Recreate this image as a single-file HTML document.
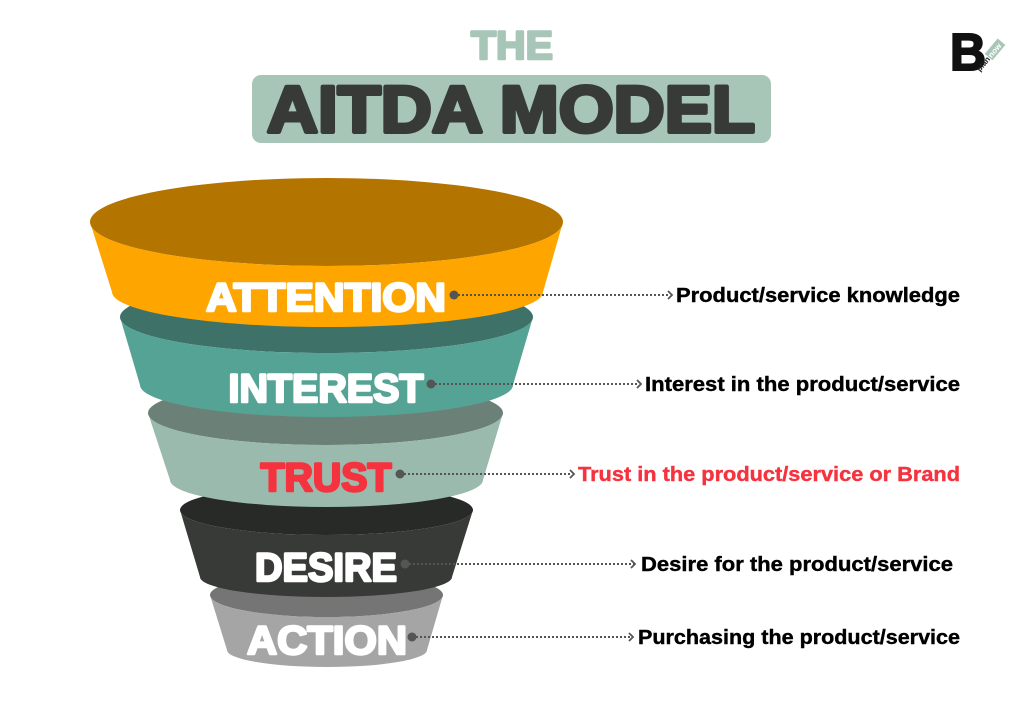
<!DOCTYPE html>
<html><head><meta charset="utf-8"><style>
html,body{margin:0;padding:0;background:#fff;}
svg{display:block;}
text{font-family:"Liberation Sans",sans-serif;font-weight:bold;}
</style></head><body>
<svg width="1024" height="724" viewBox="0 0 1024 724" xmlns="http://www.w3.org/2000/svg">
<rect width="1024" height="724" fill="#fff"/>
<!-- title -->
<text x="512" y="59" text-anchor="middle" font-size="40" fill="#A8C6B8" stroke="#A8C6B8" stroke-width="2.5" stroke-linejoin="round" textLength="82" lengthAdjust="spacingAndGlyphs">THE</text>
<rect x="252" y="75" width="519" height="68" rx="9" fill="#A8C6B8"/>
<text x="511" y="132" text-anchor="middle" font-size="66" fill="#383A37" stroke="#383A37" stroke-width="4" stroke-linejoin="round" textLength="488" lengthAdjust="spacingAndGlyphs">AITDA MODEL</text>
<!-- logo -->
<text x="950" y="70" font-size="52" fill="#111" stroke="#111" stroke-width="2" textLength="36" lengthAdjust="spacingAndGlyphs">B</text>
<g transform="translate(980,72) rotate(-50)">
<text x="0" y="0" font-size="8" fill="#222">plan</text>
<rect x="17" y="-8" width="20" height="10" fill="#A8C6B8"/>
<text x="18" y="0" font-size="8" fill="#fff">now</text>
</g>

<!-- ACTION -->
<ellipse cx="326.5" cy="595" rx="116.5" ry="22" fill="#757575"/>
<path d="M210,595 L227,650 A100,17 0 0 0 427,650 L443,595 A116.5,22 0 0 1 210,595 Z" fill="#A5A5A5"/>
<!-- DESIRE -->
<ellipse cx="326.5" cy="510" rx="146.5" ry="25" fill="#282A27"/>
<path d="M180,510 L200,577 A126,20 0 0 0 452,577 L473,510 A146.5,25 0 0 1 180,510 Z" fill="#383A37"/>
<!-- TRUST -->
<ellipse cx="325.5" cy="413" rx="177.5" ry="32" fill="#6B8077"/>
<path d="M148,413 L170,480 A156.5,27 0 0 0 483,480 L503,413 A177.5,32 0 0 1 148,413 Z" fill="#9ABAAE"/>
<!-- INTEREST -->
<ellipse cx="326.5" cy="317" rx="206.5" ry="36" fill="#3E7268"/>
<path d="M120,317 L140,385 A186.5,32 0 0 0 513,385 L533,317 A206.5,36 0 0 1 120,317 Z" fill="#55A394"/>
<!-- ATTENTION -->
<ellipse cx="326.5" cy="222" rx="236.5" ry="44" fill="#B37500"/>
<path d="M90,222 L112,292 A215.5,35 0 0 0 543,292 L563,222 A236.5,44 0 0 1 90,222 Z" fill="#FFA500"/>

<!-- labels -->
<g stroke-width="2.5" stroke-linejoin="round">
<text x="326" y="311" text-anchor="middle" font-size="40" fill="#fff" stroke="#fff" textLength="240" lengthAdjust="spacingAndGlyphs">ATTENTION</text>
<text x="326" y="402" text-anchor="middle" font-size="40" fill="#fff" stroke="#fff" textLength="195" lengthAdjust="spacingAndGlyphs">INTEREST</text>
<text x="326" y="491" text-anchor="middle" font-size="40" fill="#F5333F" stroke="#F5333F" textLength="131" lengthAdjust="spacingAndGlyphs">TRUST</text>
<text x="326" y="581" text-anchor="middle" font-size="40" fill="#fff" stroke="#fff" textLength="142" lengthAdjust="spacingAndGlyphs">DESIRE</text>
<text x="327" y="654" text-anchor="middle" font-size="40" fill="#fff" stroke="#fff" textLength="160" lengthAdjust="spacingAndGlyphs">ACTION</text>
</g>

<!-- connectors -->
<g stroke="#555" stroke-width="2" stroke-dasharray="2,2" fill="none">
<line x1="454" y1="295" x2="670" y2="295"/>
<line x1="431" y1="384" x2="639" y2="384"/>
<line x1="400" y1="474" x2="572" y2="474"/>
<line x1="405" y1="564" x2="634" y2="564"/>
<line x1="412" y1="637" x2="632" y2="637"/>
</g>
<g stroke="#555" stroke-width="1.8" fill="none">
<polyline points="668,291 672,295 668,299"/>
<polyline points="637,380 641,384 637,388"/>
<polyline points="570,470 574,474 570,478"/>
<polyline points="631,560 635,564 631,568"/>
<polyline points="629,633 633,637 629,641"/>
</g>
<g fill="#555">
<circle cx="454" cy="295" r="4.5"/>
<circle cx="431" cy="384" r="4.5"/>
<circle cx="400" cy="474" r="4.5"/>
<circle cx="405" cy="564" r="4.5"/>
<circle cx="412" cy="637" r="4.5"/>
</g>
<g font-size="20">
<text x="676" y="302" fill="#000" stroke="#000" stroke-width="0.4" textLength="284" lengthAdjust="spacingAndGlyphs">Product/service knowledge</text>
<text x="645" y="391" fill="#000" stroke="#000" stroke-width="0.4" textLength="315" lengthAdjust="spacingAndGlyphs">Interest in the product/service</text>
<text x="578" y="481" fill="#F5333F" stroke="#F5333F" stroke-width="0.4" textLength="382" lengthAdjust="spacingAndGlyphs">Trust in the product/service or Brand</text>
<text x="641" y="571" fill="#000" stroke="#000" stroke-width="0.4" textLength="312" lengthAdjust="spacingAndGlyphs">Desire for the product/service</text>
<text x="638" y="644" fill="#000" stroke="#000" stroke-width="0.4" textLength="322" lengthAdjust="spacingAndGlyphs">Purchasing the product/service</text>
</g>
</svg>
</body></html>
